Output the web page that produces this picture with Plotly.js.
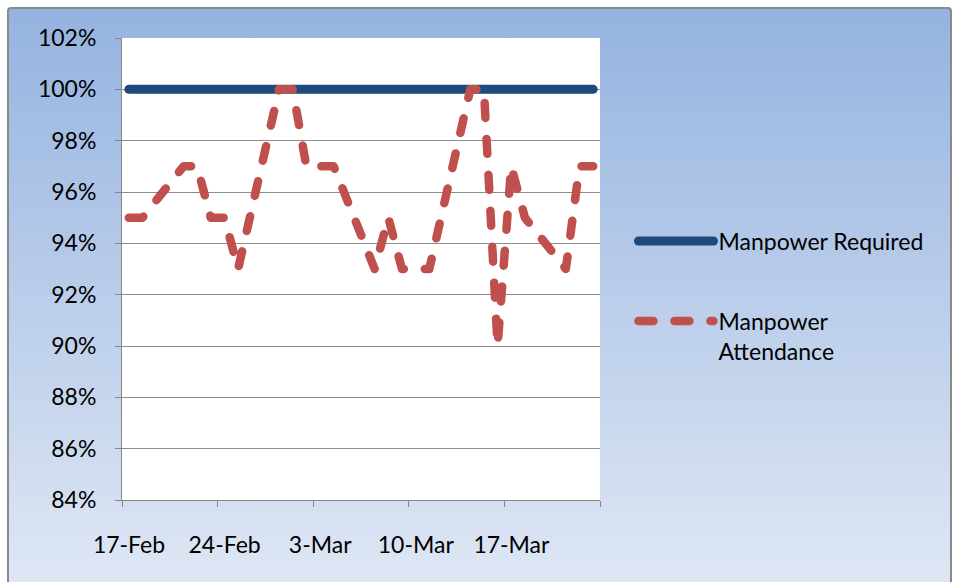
<!DOCTYPE html>
<html><head><meta charset="utf-8">
<script src="https://cdn.plot.ly/plotly-3.0.1.min.js"></script>
<style>
html,body{margin:0;padding:0;background:#fff;overflow:hidden;}
#frame{position:absolute;left:7px;top:7px;width:945px;height:580px;border:2px solid #8a8a8a;border-radius:4px;background:linear-gradient(to bottom,#95b3e0 0%,#dfe7f4 100%);box-sizing:border-box;}
#chart{position:absolute;left:0;top:0;width:956px;height:582px;}
.scatterlayer .js-line,.legend .js-line{stroke-linecap:round;stroke-linejoin:round;}
</style></head>
<body><div id="frame"></div><div id="chart"></div>
<script>
// Working days (2011) and values
const dates = ['2011-02-17','2011-02-18','2011-02-21','2011-02-22','2011-02-23','2011-02-24','2011-02-25',
  '2011-02-28','2011-03-01','2011-03-02','2011-03-03','2011-03-04',
  '2011-03-07','2011-03-08','2011-03-09','2011-03-10','2011-03-11',
  '2011-03-14','2011-03-15','2011-03-16','2011-03-17','2011-03-18',
  '2011-03-21','2011-03-22','2011-03-23'];
const required = [1,1,1,1,1,1,1, 1,1,1,1,1, 1,1,1,1,1, 1,1,1,1,1, 1,1,1];
const attendance = [0.95,0.95,0.97,0.97,0.95,0.95,0.93,
  1.00,1.00,0.97,0.97,0.97,
  0.93,0.95,0.93,0.93,0.93,
  1.00,1.00,0.90,0.97,0.95,
  0.93,0.97,0.97];
const seriesNames = ['Manpower Required','Manpower<br>Attendance'];
const tickLabels = ['17-Feb','24-Feb','3-Mar','10-Mar','17-Mar',''];
const tickBoundaries = ['2011-02-16 12:00','2011-02-23 12:00','2011-03-02 12:00','2011-03-09 12:00','2011-03-16 12:00','2011-03-23 12:00'];

const font = {family:'Lato, Carlito, Calibri, sans-serif', size:23, color:'#000'};
const traces = [
  {x:dates, y:required, name:seriesNames[0], type:'scatter', mode:'lines', legendgroup:'a',
   line:{color:'#1F497D', width:9}},
  {x:dates, y:attendance, name:seriesNames[1], type:'scatter', mode:'lines', legendgroup:'b',
   line:{color:'#C0504D', width:8.5, dash:'15px,21px'}}
];
const layout = {
  width:956, height:582,
  margin:{l:122, r:356, t:38, b:82},
  paper_bgcolor:'rgba(0,0,0,0)', plot_bgcolor:'#fff',
  font:font,
  showlegend:true,
  legend:{x:1.07, y:0.607, xanchor:'left', yanchor:'top', bgcolor:'rgba(0,0,0,0)',
    font:font, itemwidth:75, tracegroupgap:47, valign:'top'},
  xaxis:{type:'date', range:[tickBoundaries[0], tickBoundaries[5]],
    tickmode:'array', tickvals:tickBoundaries, ticktext:tickLabels,
    ticklabelshift:7, ticklabelstandoff:18,
    showgrid:false, zeroline:false, showline:true, linecolor:'#868686', linewidth:1,
    ticks:'outside', ticklen:6, tickcolor:'#868686', tickfont:font},
  yaxis:{range:[0.84,1.02], tick0:0.84, dtick:0.02, tickformat:'.0%',
    showgrid:true, gridcolor:'#8c8c8c', gridwidth:1, zeroline:false,
    showline:true, linecolor:'#868686', linewidth:1,
    ticks:'outside', ticklen:6, tickcolor:'#868686', tickfont:font, ticklabelstandoff:14}
};
Plotly.newPlot('chart', traces, layout, {displayModeBar:false, staticPlot:true});
</script>
</body></html>
